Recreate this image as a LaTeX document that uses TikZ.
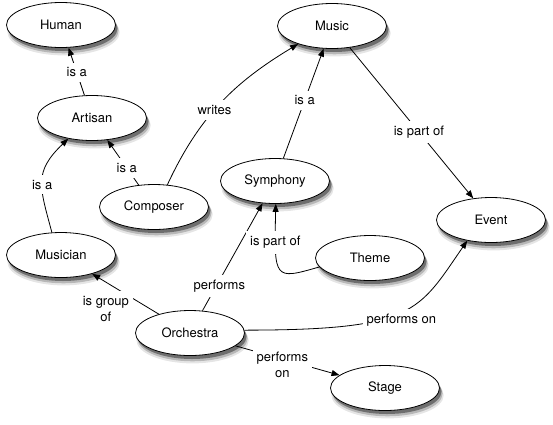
\documentclass[tikz,border=0pt]{standalone}
\usepackage{fontspec}
\setmainfont{TeX Gyre Heros}
\usetikzlibrary{shapes.geometric,shadows,arrows.meta}

\begin{document}
\begin{tikzpicture}[->,>={Triangle[length=8pt,width=6pt]},x=1pt,y=1pt,line width=0.8pt,
	font=\fontsize{13}{15.5}\selectfont,
	concept/.style={ellipse,draw,fill=white,minimum width=109pt,minimum height=45pt,inner sep=0pt,
		general shadow={shadow xshift=2.5pt,shadow yshift=-7pt,shadow scale=1.03,fill=black,opacity=.1},
		general shadow={shadow xshift=2.5pt,shadow yshift=-5.5pt,shadow scale=1.01,fill=black,opacity=.2},
		general shadow={shadow xshift=2pt,shadow yshift=-3.5pt,fill=black,opacity=.4}},
	link/.style={fill=white,inner xsep=4pt,inner ysep=5pt,align=center}]
\useasboundingbox (0,0) rectangle (553,-424);

\node[concept](human) at (61,-25){Human};
\node[concept](artisan) at (92,-118){Artisan};
\node[concept](composer) at (154,-207){Composer};
\node[concept](music) at (332,-26){Music};
\node[concept](symphony) at (275,-181){Symphony};
\node[concept](event) at (491,-220){Event};
\node[concept](theme) at (370,-258){Theme};
\node[concept](musician) at (61,-255){Musician};
\node[concept](orchestra) at (190,-333){Orchestra};
\node[concept](stage) at (385,-388){Stage};

\path(artisan)edge node[link,pos=0.48]{is a}(human)
	(composer)edge node[link,pos=0.38]{is a}(artisan)
	(musician.112)edge[out=105,in=224,looseness=1.3]node[link,pos=0.45]{is a}(artisan.221)
	(composer.59)edge[out=65,in=211]node[link,pos=0.45]{writes}(music.208)
	(symphony)edge node[link,pos=0.53]{is a}(music)
	(music)edge node[link,pos=0.56]{is part of}(event)
	(orchestra)edge node[link,pos=0.23,xshift=3pt]{performs}(symphony)
	edge node[link,pos=0.75,xshift=-3pt,yshift=-25pt]{is group\\of}(musician)
	edge node[link,pos=0.45,yshift=-6pt]{performs\\on}(stage);

% curved links
\draw(theme.190)..controls(274,-280)..(symphony.-88)node[link,pos=0.79]{is part of};
\draw(orchestra.3)..controls(415,-330)and(418,-312)..(event.221)node[link,pos=0.5,yshift=-8pt]{performs on};

\end{tikzpicture}
\end{document}
